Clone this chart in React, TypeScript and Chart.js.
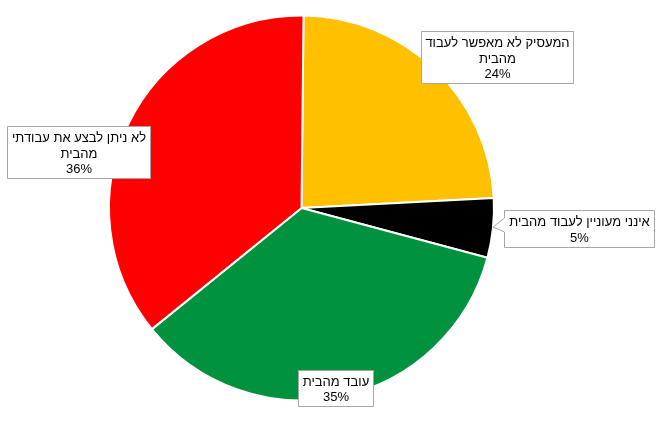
import React, { useEffect, useRef } from "react";
import { Chart, registerables } from "chart.js";

Chart.register(...registerables);

const categories = [
  "המעסיק לא מאפשר לעבוד מהבית",
  "אינני מעוניין לעבוד מהבית",
  "עובד מהבית",
  "לא ניתן לבצע את עבודתי מהבית",
];
const values = [24, 5, 35, 36];
const labelLines = [
  ["המעסיק לא מאפשר לעבוד", "מהבית", "24%"],
  ["אינני מעוניין לעבוד מהבית", "5%"],
  ["עובד מהבית", "35%"],
  ["לא ניתן לבצע את עבודתי", "מהבית", "36%"],
];
const colors = ["#FFC000", "#000000", "#00923F", "#FF0000"];
// label box rectangles: [left, top, right, bottom]
const labelBoxes = [
  [421, 31, 573, 83],
  [504, 210, 654, 247],
  [298, 370, 373, 406],
  [7, 126, 150, 178],
];

const calloutPlugin = {
  id: "callouts",
  afterDatasetsDraw(chart: any) {
    const ctx = chart.ctx;
    ctx.save();
    labelBoxes.forEach((b, i) => {
      const [l, t, r, btm] = b;
      ctx.beginPath();
      if (i === 1) {
        ctx.moveTo(l + 0.5, t + 0.5);
        ctx.lineTo(r + 0.5, t + 0.5);
        ctx.lineTo(r + 0.5, btm + 0.5);
        ctx.lineTo(l + 0.5, btm + 0.5);
        ctx.lineTo(l + 0.5, t + 22);
        ctx.lineTo(l - 11, t + 17);
        ctx.lineTo(l + 0.5, t + 8);
        ctx.closePath();
      } else {
        ctx.rect(l + 0.5, t + 0.5, r - l, btm - t);
      }
      ctx.fillStyle = "#ffffff";
      ctx.fill();
      ctx.strokeStyle = "#A6A6A6";
      ctx.lineWidth = 1;
      ctx.stroke();
      const lines = labelLines[i];
      const cx = (l + r) / 2 + 0.5;
      const cy = (t + btm) / 2 + 2;
      const lh = 15.5;
      ctx.fillStyle = "#000000";
      ctx.font = "13px 'Liberation Sans', Arial, sans-serif";
      ctx.textAlign = "center";
      ctx.textBaseline = "middle";
      ctx.direction = "rtl";
      lines.forEach((ln, k) => {
        const y = cy + (k - (lines.length - 1) / 2) * lh;
        ctx.fillText(ln, cx, y);
      });
    });
    ctx.restore();
  },
};

export default function App() {
  const ref = useRef<HTMLCanvasElement>(null);
  useEffect(() => {
    if (!ref.current) return;
    const chart = new Chart(ref.current, {
      type: "pie",
      data: {
        labels: categories,
        datasets: [
          {
            data: values,
            backgroundColor: colors,
            borderColor: "#ffffff",
            borderWidth: 2,
            hoverOffset: 0,
            offset: 0,
          },
        ],
      },
      options: {
        responsive: false,
        animation: false,
        rotation: 0.6,
        layout: { padding: { left: 108, right: 168, top: 14, bottom: 22 } },
        plugins: {
          legend: { display: false },
          tooltip: { enabled: false },
        },
        events: [],
      },
      plugins: [calloutPlugin],
    });
    return () => chart.destroy();
  }, []);
  return (
    <div style={{ position: "absolute", left: 0, top: 0, width: 663, height: 424, background: "#fff" }}>
      <canvas ref={ref} width={663} height={424} style={{ display: "block" }} />
    </div>
  );
}
